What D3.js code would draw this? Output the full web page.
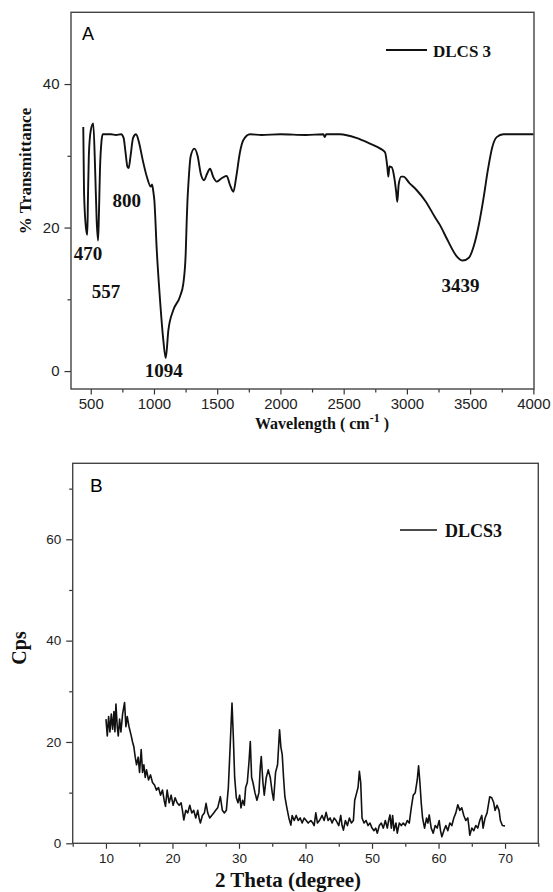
<!DOCTYPE html>
<html>
<head>
<meta charset="utf-8">
<script src="https://cdn.jsdelivr.net/npm/d3@7"></script>
<style>
  body { margin: 0; background: #fff; }
  svg { display: block; }
  .tick text { font-family: Arial, "Liberation Sans", sans-serif; fill: #222; }
  .ttl { font-family: "Liberation Serif", "Times New Roman", serif; font-weight: bold; fill: #111; }
</style>
</head>
<body>
<svg id="chart" width="553" height="892"></svg>
<script>
// ---- panel A : IR spectrum ----
const irWave = [441, 447, 462, 473, 478, 485, 500, 520, 535, 547, 558, 565, 573, 585, 595, 620, 660, 700, 740, 760, 775, 790, 800, 815, 835, 858, 880, 910, 945, 975, 985, 995, 1003, 1022, 1048, 1074, 1093, 1114, 1153, 1206, 1232, 1251, 1259, 1265, 1271, 1290, 1319, 1345, 1370, 1396, 1420, 1443, 1470, 1496, 1530, 1575, 1600, 1628, 1650, 1680, 1707, 1760, 1850, 2000, 2200, 2340, 2350, 2362, 2471, 2600, 2708, 2790, 2827, 2845, 2853, 2862, 2880, 2900, 2915, 2924, 2935, 2955, 2972, 3020, 3078, 3150, 3220, 3263, 3320, 3394, 3441, 3490, 3530, 3570, 3605, 3640, 3675, 3710, 3763, 3850, 3950, 4000];
const irTrans = [34, 25, 20, 19, 24, 30, 33.5, 34.5, 28, 21, 18.2, 22, 28, 32, 33, 33, 33, 32.9, 33, 32.5, 30.5, 28.5, 28.3, 30, 32.5, 33, 32, 29.5, 27, 25.7, 26, 25, 23.8, 16.9, 9.9, 4.3, 1.8, 5.7, 8.5, 10.4, 12.2, 16.4, 21, 23.8, 25.7, 29.9, 31, 30, 27.5, 26.6, 27.5, 28.2, 27, 26.4, 26.8, 27.2, 26, 25, 27, 30.5, 32.2, 33, 32.9, 33, 32.9, 33, 32.6, 33, 33, 32.5, 31.7, 31, 30.5, 28.5, 27.1, 28.5, 28.4, 27, 25, 23.6, 26, 27.1, 27.1, 26.2, 25.2, 23.6, 21.5, 20.3, 18.3, 16, 15.4, 15.8, 17.5, 20.5, 24, 28, 31.2, 32.6, 33, 33, 33, 33];
const irXTicks = [500, 1000, 1500, 2000, 2500, 3000, 3500, 4000];
const irYTicks = [0, 20, 40];
const peakLabels = ["470", "557", "800", "1094", "3439"];
const peakWave = [470, 557, 800, 1094, 3439];
const peakDip = [19, 18.2, 28.3, 1.8, 15.4];

// ---- panel B : XRD pattern ----
const xrdAngle = [10.0, 10.2, 10.4, 10.6, 10.8, 11.0, 11.2, 11.35, 11.5, 11.7, 11.85, 12.05, 12.25, 12.5, 12.8, 13.0, 13.2, 13.45, 13.75, 14.0, 14.2, 14.4, 14.6, 14.85, 15.05, 15.3, 15.5, 15.7, 15.9, 16.1, 16.4, 16.7, 17.0, 17.3, 17.6, 17.9, 18.2, 18.5, 18.75, 18.95, 19.2, 19.5, 19.8, 20.1, 20.4, 20.7, 21.0, 21.3, 21.5, 21.7, 22.0, 22.3, 22.6, 22.9, 23.2, 23.5, 23.8, 24.0, 24.2, 24.5, 24.8, 25.05, 25.3, 25.6, 25.9, 26.2, 26.5, 26.8, 27.2, 27.5, 27.8, 28.1, 28.4, 28.7, 28.95, 29.15, 29.35, 29.6, 29.85, 30.1, 30.3, 30.55, 30.8, 31.0, 31.25, 31.5, 31.7, 31.9, 32.1, 32.4, 32.7, 33.0, 33.2, 33.35, 33.6, 33.8, 34.1, 34.4, 34.7, 35.0, 35.2, 35.5, 35.8, 36.1, 36.3, 36.5, 36.7, 36.9, 37.2, 37.5, 37.8, 38.0, 38.3, 38.6, 38.9, 39.2, 39.5, 39.8, 40.1, 40.4, 40.8, 41.1, 41.3, 41.55, 41.8, 42.1, 42.5, 42.8, 43.1, 43.4, 43.7, 44.0, 44.3, 44.6, 45.0, 45.3, 45.5, 45.7, 46.0, 46.3, 46.6, 46.9, 47.2, 47.4, 47.7, 47.9, 48.1, 48.3, 48.5, 48.8, 49.1, 49.4, 49.7, 50.0, 50.3, 50.55, 50.8, 51.1, 51.4, 51.7, 52.0, 52.3, 52.5, 52.7, 52.9, 53.1, 53.3, 53.6, 53.8, 54.1, 54.4, 54.7, 55.0, 55.3, 55.6, 55.9, 56.2, 56.5, 56.8, 57.0, 57.2, 57.4, 57.6, 57.9, 58.2, 58.4, 58.6, 58.9, 59.2, 59.5, 59.8, 60.1, 60.3, 60.5, 60.8, 61.1, 61.4, 61.7, 62.0, 62.3, 62.6, 62.9, 63.2, 63.5, 63.8, 64.1, 64.4, 64.55, 64.7, 65.0, 65.3, 65.6, 65.9, 66.2, 66.5, 66.7, 67.0, 67.3, 67.7, 68.0, 68.3, 68.5, 68.8, 69.1, 69.3, 69.6, 70.0];
const xrdCps = [24.5, 21.2, 25, 22, 25.5, 22.5, 26, 22, 27.5, 23, 21.2, 24.5, 22, 25.5, 27.8, 23, 25, 23.1, 21.5, 20, 19, 17, 15.5, 17, 14, 18.5, 14, 15.5, 13, 14.5, 12.5, 13.5, 12, 11.5, 10.5, 11, 9.5, 10.5, 8.5, 7.3, 10.5, 8, 9.5, 7.5, 9, 8, 7.5, 8, 6.5, 4.6, 6.5, 6, 7.5, 6, 6.5, 5, 6.5, 5, 4, 5.5, 6, 7.9, 6, 5, 5.5, 6, 6.5, 7, 9.2, 6.5, 6, 6.5, 11, 20, 27.7, 21, 13, 9, 8, 9.5, 7, 8.5, 7.5, 11, 12, 16, 20.1, 13, 12, 10, 8.5, 10, 15, 17.1, 12, 9.5, 13, 14.5, 13, 10, 8.5, 14, 15.5, 22.4, 19, 17.5, 13, 9.2, 7, 5, 3.6, 5.5, 4.5, 5.5, 4.5, 5, 4, 5, 4.5, 4, 4.5, 4, 3.5, 6, 4, 4.5, 5.5, 4.5, 6.1, 4.5, 5, 4, 5, 4.5, 3.5, 5.5, 3.5, 2.6, 4.5, 3.5, 5, 4, 4.5, 8.5, 10, 11, 14.2, 12, 5, 4, 4.5, 3.5, 4, 3, 2.5, 3, 2, 3.5, 4, 3, 4.5, 3, 4.5, 5.6, 3, 5.5, 2.5, 4, 2, 4, 3.5, 4, 3.5, 4.5, 4, 7, 9.5, 10, 12.5, 15.3, 12, 8, 5, 3, 5, 4, 5.6, 3, 2, 3.5, 3, 4.5, 2.5, 1.3, 2.5, 3.5, 2.5, 4, 3.5, 5, 6, 7.6, 6.5, 7, 5.5, 4.5, 5, 3.5, 1.6, 3, 2.5, 3.5, 3, 4.5, 5.5, 3, 5, 6, 9.2, 9, 8, 6.5, 7.5, 6.5, 4.5, 3.5, 3.4];
const xrdXTicks = [10, 20, 30, 40, 50, 60, 70];
const xrdYTicks = [0, 20, 40, 60];

const svg = d3.select("#chart");

// draws a boxed panel with outward ticks on left + bottom
function drawPanel(opt) {
  const g = svg.append("g");
  const x = d3.scaleLinear().domain(opt.xDomain).range([opt.left, opt.right]);
  const y = d3.scaleLinear().domain(opt.yDomain).range([opt.bottom, opt.top]);

  // minor ticks first
  g.append("g")
    .attr("transform", `translate(0,${opt.bottom})`)
    .call(d3.axisBottom(x).tickValues(opt.xMinor).tickSize(3.5).tickFormat(""))
    .call(a => a.select(".domain").remove());
  g.append("g")
    .attr("transform", `translate(${opt.left},0)`)
    .call(d3.axisLeft(y).tickValues(opt.yMinor).tickSize(3.5).tickFormat(""))
    .call(a => a.select(".domain").remove());

  const xa = g.append("g")
    .attr("transform", `translate(0,${opt.bottom})`)
    .call(d3.axisBottom(x).tickValues(opt.xTicks).tickSize(5.5).tickPadding(opt.xPad).tickFormat(d3.format("d")));
  xa.select(".domain").remove();
  xa.selectAll("text").style("font-size", opt.tickFont + "px");

  const ya = g.append("g")
    .attr("transform", `translate(${opt.left},0)`)
    .call(d3.axisLeft(y).tickValues(opt.yTicks).tickSize(6.5).tickPadding(5).tickFormat(d3.format("d")));
  ya.select(".domain").remove();
  ya.selectAll("text").style("font-size", opt.tickFont + "px");
  g.selectAll(".tick line").attr("stroke", "#333").attr("stroke-width", 1.2);

  g.append("rect")
    .attr("x", opt.left).attr("y", opt.top)
    .attr("width", opt.right - opt.left).attr("height", opt.bottom - opt.top)
    .attr("fill", "none").attr("stroke", "#444").attr("stroke-width", 1.4);

  return { g, x, y };
}

// ---------- A ----------
const A = drawPanel({
  left: 71, right: 534, top: 12.3, bottom: 389,
  xDomain: [344, 4005], yDomain: [-2.5, 50],
  xTicks: irXTicks, yTicks: irYTicks,
  xMinor: d3.range(750, 4000, 500), yMinor: [10, 30],
  tickFont: 15, xPad: 4
});

const irData = irWave.map((w, i) => [w, irTrans[i]]);
A.g.append("path")
  .datum(irData)
  .attr("fill", "none")
  .attr("stroke", "#111")
  .attr("stroke-width", 1.9)
  .attr("stroke-linejoin", "round")
  .attr("d", d3.line().x(d => A.x(d[0])).y(d => A.y(d[1])).curve(d3.curveMonotoneX));

const peakDx = [1, 8, -2, -2, -2];
const peakDy = [25, 58, 39, 19, 31.5];
A.g.selectAll(".peak")
  .data(peakLabels)
  .enter().append("text")
  .attr("class", "ttl")
  .attr("x", (d, i) => A.x(peakWave[i]) + peakDx[i])
  .attr("y", (d, i) => A.y(peakDip[i]) + peakDy[i])
  .attr("text-anchor", "middle")
  .style("font-size", "19px")
  .text(d => d);

A.g.append("text")
  .attr("x", 82).attr("y", 40)
  .style("font-family", "Arial, sans-serif").style("font-size", "18px")
  .text("A");

// legend A
A.g.append("line").attr("x1", 386).attr("x2", 427).attr("y1", 50).attr("y2", 50)
  .attr("stroke", "#111").attr("stroke-width", 1.9);
A.g.append("text").attr("class", "ttl")
  .attr("x", 433).attr("y", 57)
  .style("font-size", "17px")
  .text("DLCS 3");

// axis titles A
A.g.append("text").attr("class", "ttl")
  .attr("transform", "translate(31,171) rotate(-90)")
  .attr("text-anchor", "middle")
  .style("font-size", "17px")
  .text("% Transmittance");

const xt = A.g.append("text").attr("class", "ttl")
  .attr("x", 322).attr("y", 429)
  .attr("text-anchor", "middle")
  .style("font-size", "16px");
xt.append("tspan").text("Wavelength ( cm");
xt.append("tspan").attr("dy", -7).style("font-size", "12px").text("-1");
xt.append("tspan").attr("dy", 7).text(" )");

// ---------- B ----------
const B = drawPanel({
  left: 72.7, right: 538.3, top: 463.3, bottom: 843.3,
  xDomain: [5, 75], yDomain: [0, 75],
  xTicks: xrdXTicks, yTicks: xrdYTicks,
  xMinor: [5, 15, 25, 35, 45, 55, 65, 75], yMinor: [10, 30, 50, 70],
  tickFont: 13.5, xPad: 5
});

const xrdData = xrdAngle.map((a, i) => [a, xrdCps[i]]);
B.g.append("path")
  .datum(xrdData)
  .attr("fill", "none")
  .attr("stroke", "#111")
  .attr("stroke-width", 1.6)
  .attr("stroke-linejoin", "round")
  .attr("d", d3.line().x(d => B.x(d[0])).y(d => B.y(d[1])));

B.g.append("text")
  .attr("x", 90).attr("y", 492)
  .style("font-family", "Arial, sans-serif").style("font-size", "19px")
  .text("B");

B.g.append("line").attr("x1", 400).attr("x2", 437).attr("y1", 530).attr("y2", 530)
  .attr("stroke", "#111").attr("stroke-width", 1.6);
B.g.append("text").attr("class", "ttl")
  .attr("x", 445).attr("y", 537)
  .style("font-size", "18px")
  .text("DLCS3");

B.g.append("text").attr("class", "ttl")
  .attr("transform", "translate(26,648) rotate(-90)")
  .attr("text-anchor", "middle")
  .style("font-size", "20px")
  .text("Cps");

B.g.append("text").attr("class", "ttl")
  .attr("x", 288).attr("y", 887)
  .attr("text-anchor", "middle")
  .style("font-size", "21px")
  .text("2 Theta (degree)");
</script>
</body>
</html>
